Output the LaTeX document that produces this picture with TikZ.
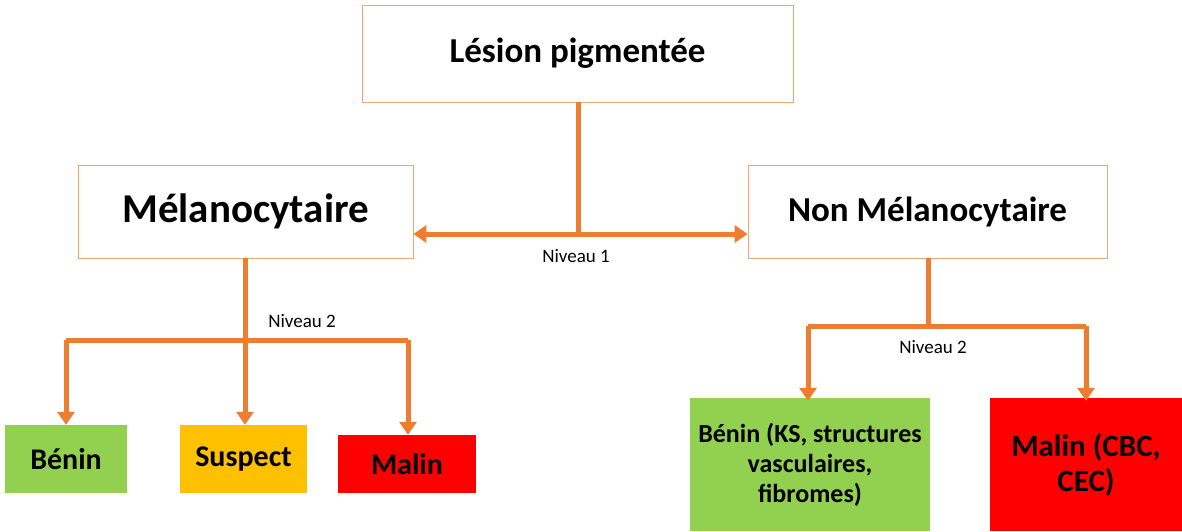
\documentclass[tikz,border=0pt]{standalone}
\usepackage{fontspec}
\setmainfont{Carlito}
\usetikzlibrary{arrows.meta}
\definecolor{org}{HTML}{ED7D31}
\definecolor{grn}{HTML}{92D050}
\definecolor{ylw}{HTML}{FFC000}
\definecolor{rd}{HTML}{FF0000}
\begin{document}
\begin{tikzpicture}[x=1pt,y=-1pt,
  wbox/.style={draw=org!70,line width=0.8pt,fill=white,inner sep=0pt,font=\bfseries},
  cbox/.style={inner sep=0pt,font=\bfseries,align=center},
  conn/.style={draw=org,line width=5pt},
  arr/.style={conn,-{Triangle[width=17pt,length=13pt]}},
  lvl/.style={font=\fontsize{19}{22}\selectfont,inner sep=0pt}]
\useasboundingbox (0,0) rectangle (1182,531);
\node[wbox,minimum width=431pt,minimum height=97pt,font=\bfseries\fontsize{35}{40}\selectfont] (top) at (577.5,53.5) {Lésion pigmentée};
\node[wbox,minimum width=335pt,minimum height=93pt,font=\bfseries\fontsize{41}{48}\selectfont] (mel) at (245.5,211.5) {Mélanocytaire};
\node[wbox,minimum width=359pt,minimum height=93pt,font=\bfseries\fontsize{35}{40}\selectfont] (non) at (927.5,211.5) {Non Mélanocytaire};
\node[cbox,fill=grn,minimum width=122pt,minimum height=68pt,font=\bfseries\fontsize{30}{34}\selectfont] (ben) at (66,459) {Bénin};
\node[cbox,fill=ylw,minimum width=127pt,minimum height=68pt,font=\bfseries\fontsize{30}{34}\selectfont] (sus) at (243.5,459) {Suspect};
\node[cbox,fill=rd,minimum width=138pt,minimum height=58pt,font=\bfseries\fontsize{30}{34}\selectfont] (mal) at (407,464) {Malin};
\node[cbox,fill=grn,minimum width=240pt,minimum height=133pt,font=\bfseries\fontsize{26}{30}\selectfont] (ben2) at (810,464.5) {Bénin (KS, structures\\vasculaires,\\fibromes)};
\node[cbox,fill=rd,minimum width=192pt,minimum height=133pt,font=\bfseries\fontsize{31}{35}\selectfont] (mal2) at (1086,464.5) {Malin (CBC,\\CEC)};
% level 1
\coordinate (j1) at (578,234);
\draw[conn] (top.south -| j1) -- (j1);
\draw[arr] (j1) -- (j1 -| mel.east);
\draw[arr] (j1) -- (j1 -| non.west);
\node[lvl] (n1) at (576,256) {Niveau 1};
% level 2 left
\coordinate (j2) at (245,340);
\coordinate (l2a) at (66,340);
\coordinate (l2c) at (408,340);
\draw[conn] (mel.south -| j2) -- (j2);
\draw[conn] (l2a) -- (l2c);
\draw[arr] (l2a) -- (l2a |- ben.north);
\draw[arr] (j2) -- (j2 |- sus.north);
\draw[arr] (l2c) -- (l2c |- mal.north);
\node[lvl] (n2) at (302,321) {Niveau 2};
% level 2 right
\coordinate (j3) at (928,326);
\coordinate (r2a) at (808,326);
\coordinate (r2b) at (1086,326);
\draw[conn] (non.south -| j3) -- (j3);
\draw[conn] (r2a) -- (r2b);
\draw[arr] (r2a) -- ([yshift=-3pt]r2a |- ben2.north);
\draw[arr] (r2b) -- ([yshift=-3pt]r2b |- mal2.north);
\node[lvl] (n3) at (933,347) {Niveau 2};
\end{tikzpicture}
\end{document}
